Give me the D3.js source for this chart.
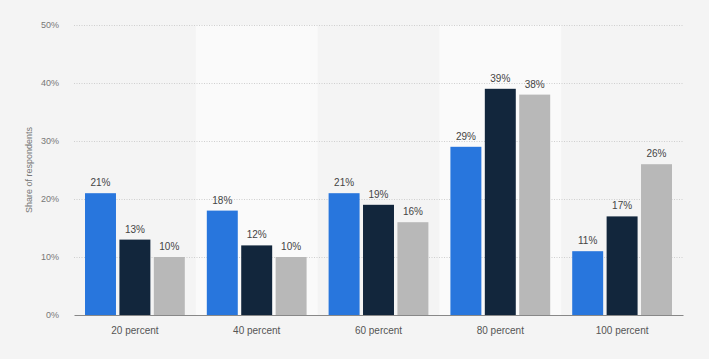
<!DOCTYPE html>
<html><head><meta charset="utf-8">
<script src="https://cdn.jsdelivr.net/npm/d3@7"></script>
<style>body{margin:0;background:#f4f4f4;}svg{display:block;}</style>
</head><body><svg id="c" width="709" height="359"></svg>
<script>
const categories = ["20 percent","40 percent","60 percent","80 percent","100 percent"];
const seriesA = [21,18,21,29,11];
const seriesB = [13,12,19,39,17];
const seriesC = [10,10,16,38,26];
const yTicks = [0,10,20,30,40,50];
const seriesColors = ["#2876dd","#12263c","#b8b8b8"];

const svg = d3.select("#c");
const W=709,H=359, m={l:74,r:26,t:25,b:44};
svg.append("rect").attr("width",W).attr("height",H).attr("fill","#f4f4f4");
const x = d3.scaleBand().domain(categories).range([m.l,W-m.r]).padding(0);
const y = d3.scaleLinear().domain([0,50]).range([H-m.b,m.t]);
const inner = d3.scaleBand().domain([0,1,2]).range([0,x.bandwidth()]).paddingInner(0.1).paddingOuter(0.32);
const font = "Arial, 'Liberation Sans', sans-serif";

// alternating bands
svg.selectAll("rect.band").data(categories.filter((d,i)=>i%2===1)).join("rect")
 .attr("x",d=>x(d)).attr("width",x.bandwidth()).attr("y",y(50)).attr("height",y(0)-y(50)).attr("fill","#fafafa");

// grid
svg.append("g").selectAll("line").data(yTicks.filter(d=>d>0)).join("line")
 .attr("x1",m.l).attr("x2",W-m.r).attr("y1",d=>Math.round(y(d))+0.5).attr("y2",d=>Math.round(y(d))+0.5)
 .attr("stroke","#cfcfcf").attr("stroke-dasharray","1,1.5");

// y axis
const ya = svg.append("g").attr("transform",`translate(${m.l},0)`).call(d3.axisLeft(y).tickValues(yTicks).tickFormat(d=>d+"%").tickSize(0).tickPadding(15));
ya.select(".domain").remove();
ya.selectAll("text").attr("fill","#777").attr("font-size","9px").attr("font-family",font);

const series=[seriesA,seriesB,seriesC];
categories.forEach((c,ci)=>{
  series.forEach((s,si)=>{
    const g=svg.append("g");
    g.append("rect").attr("x",x(c)+inner(si)).attr("width",inner.bandwidth())
      .attr("y",y(s[ci])).attr("height",y(0)-y(s[ci])).attr("fill",seriesColors[si]);
    g.append("text").attr("x",x(c)+inner(si)+inner.bandwidth()/2).attr("y",y(s[ci])-7)
      .attr("text-anchor","middle").attr("font-size","10px").attr("fill","#444")
      .attr("font-family",font).text(s[ci]+"%");
  });
});

// x axis
const xa = svg.append("g").attr("transform",`translate(0,${y(0)})`).call(d3.axisBottom(x).tickSize(0).tickPadding(12));
xa.select(".domain").attr("stroke","#888").attr("stroke-width",1.2);
xa.selectAll("text").attr("fill","#555").attr("font-size","10px").attr("font-family",font);

svg.append("text").attr("transform",`translate(32,${(y(0)+y(50))/2}) rotate(-90)`).attr("text-anchor","middle")
 .attr("font-size","9px").attr("fill","#777").attr("font-family",font).text("Share of respondents");
</script></body></html>
